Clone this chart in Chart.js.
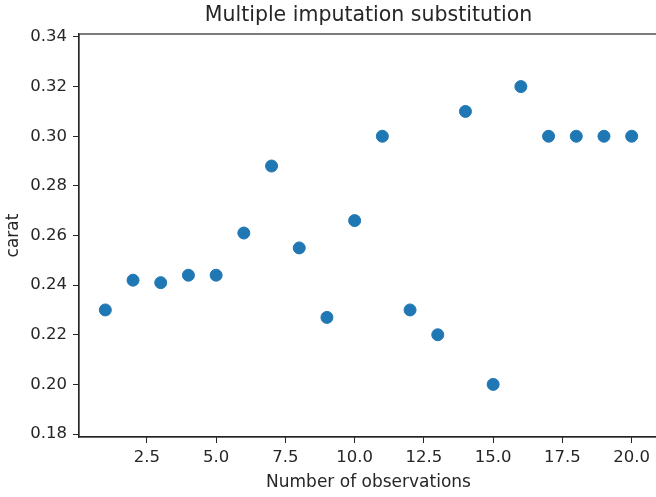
<!DOCTYPE html>
<html>
<head>
<meta charset="utf-8">
<script src="https://cdn.jsdelivr.net/npm/chart.js@4"></script>
<style>
  html, body { margin: 0; padding: 0; background: #fff; overflow: hidden; }
  #wrap { width: 680px; height: 497px; }
</style>
</head>
<body>
<div id="wrap"><canvas id="chart" width="680" height="497"></canvas></div>
<script>
// observation index and imputed carat values
const observations = [1, 2, 3, 4, 5, 6, 7, 8, 9, 10, 11, 12, 13, 14, 15, 16, 17, 18, 19, 20];
const carat = [0.230, 0.242, 0.241, 0.244, 0.244, 0.261, 0.288, 0.255, 0.227, 0.266,
               0.300, 0.230, 0.220, 0.310, 0.200, 0.320, 0.300, 0.300, 0.300, 0.300];
const xTicks = [2.5, 5.0, 7.5, 10.0, 12.5, 15.0, 17.5, 20.0];
const yTicks = [0.18, 0.20, 0.22, 0.24, 0.26, 0.28, 0.30, 0.32, 0.34];

const FONT = "'DejaVu Sans', sans-serif";
const INK = '#262626';
const PLOT_RIGHT = 658; // right spine sits just past the 656px window edge

// box around the plot area (matplotlib spines)
const frame = {
    id: 'frame',
    afterDraw(chart) {
        const a = chart.chartArea, c = chart.ctx;
        c.save();
        c.strokeStyle = INK;
        c.lineWidth = 1.2;
        c.strokeRect(a.left, a.top, a.right - a.left, a.bottom - a.top);
        c.restore();
    }
};

// title is centred on the 656px figure, not on the wider canvas
const figTitle = {
    id: 'figTitle',
    afterDraw(chart) {
        const c = chart.ctx;
        c.save();
        c.fillStyle = INK;
        c.font = '20.5px ' + FONT;
        c.textAlign = 'center';
        c.textBaseline = 'middle';
        c.fillText('Multiple imputation substitution', (chart.chartArea.left + chart.chartArea.right) / 2, 16);
        c.restore();
    }
};

const chart = new Chart(document.getElementById('chart').getContext('2d'), {
    type: 'scatter',
    data: {
        datasets: [{
            data: observations.map((x, i) => ({ x: x, y: carat[i] })),
            backgroundColor: '#1f77b4',
            borderColor: '#1f77b4',
            pointRadius: 6,
            pointHoverRadius: 6
        }]
    },
    options: {
        responsive: false,
        animation: false,
        layout: { padding: { left: 0, right: 22, top: 34, bottom: 0 } },
        plugins: {
            legend: { display: false },
            tooltip: { enabled: false },
            title: { display: false }
        },
        scales: {
            x: {
                type: 'linear',
                min: 0.05,
                max: 20.95,
                afterBuildTicks: s => { s.ticks = xTicks.map(v => ({ value: v })); },
                afterFit: s => { s.height = 60; s.paddingLeft = 0; s.paddingRight = 0; },
                border: { display: true, color: INK, width: 1.2 },
                grid: { drawOnChartArea: false, drawTicks: true, tickLength: 6, color: INK },
                ticks: {
                    color: INK,
                    font: { family: FONT, size: 16.5 },
                    padding: 5,
                    maxRotation: 0,
                    callback: v => v.toFixed(1)
                },
                title: {
                    display: true,
                    text: 'Number of observations',
                    color: INK,
                    font: { family: FONT, size: 17 },
                    padding: { top: 2, bottom: 4 }
                }
            },
            y: {
                type: 'linear',
                min: 0.1788,
                max: 0.3412,
                afterBuildTicks: s => { s.ticks = yTicks.map(v => ({ value: v })); },
                afterFit: s => { s.width = 79; s.paddingTop = 0; s.paddingBottom = 0; },
                border: { display: true, color: INK, width: 1.2 },
                grid: { drawOnChartArea: false, drawTicks: true, tickLength: 6, color: INK },
                ticks: {
                    color: INK,
                    font: { family: FONT, size: 16.5 },
                    padding: 6,
                    callback: v => v.toFixed(2)
                },
                title: {
                    display: true,
                    text: 'carat',
                    color: INK,
                    font: { family: FONT, size: 17 },
                    padding: { top: 3, bottom: 4 }
                }
            }
        }
    },
    plugins: [frame, figTitle]
});

// layout eats a few px on the right; nudge padding so the plot ends where the reference does
const gap = PLOT_RIGHT - chart.chartArea.right;
if (Math.abs(gap) > 0.5) {
    chart.config.options.layout.padding = { left: 0, right: 22 - gap, top: 34, bottom: 0 };
    chart.update();
}
</script>
</body>
</html>
